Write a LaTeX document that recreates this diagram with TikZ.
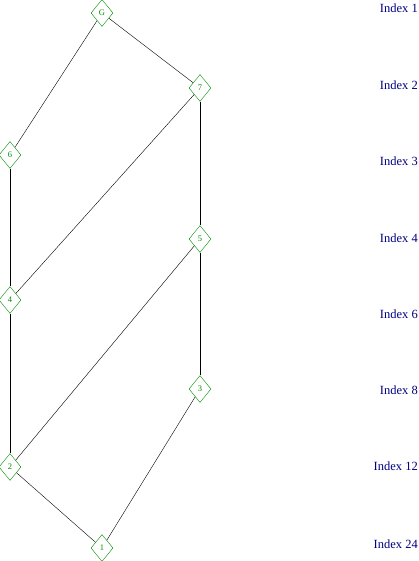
\documentclass[tikz,border=0pt]{standalone}
\usepackage{fontspec}
\setmainfont{Liberation Serif}
\usetikzlibrary{shapes.geometric}
\definecolor{lgreen}{RGB}{0,140,0}
\definecolor{lnavy}{RGB}{0,0,128}
\begin{document}
\begin{tikzpicture}[x=1pt,y=-1pt,
  grp/.style={diamond,draw=lgreen,text=lgreen,inner sep=0pt,minimum width=22pt,minimum height=27pt,font=\fontsize{8.5}{8.5}\selectfont},
  idx/.style={anchor=east,inner sep=0pt,text=lnavy,font=\fontsize{12.5}{12.5}\selectfont}]
\useasboundingbox (0,0) rectangle (419,561);
\node[grp] (g) at (102,13) {G};
\node[grp] (s) at (200,88) {7};
\node[grp] (f) at (10,155) {6};
\node[grp] (e) at (200,239) {5};
\node[grp] (d) at (10,300) {4};
\node[grp] (c) at (200,389) {3};
\node[grp] (b) at (10,467) {2};
\node[grp] (a) at (102,548) {1};
\draw (g) -- (s);
\draw (g) -- (f);
\draw (s) -- (e);
\draw (s) -- (d);
\draw (f) -- (d);
\draw (e) -- (b);
\draw (e) -- (c);
\draw (d) -- (b);
\draw (c) -- (a);
\draw (b) -- (a);
\node[idx] (i1) at (418,8) {Index 1};
\node[idx] (i2) at (418,85) {Index 2};
\node[idx] (i3) at (418,161) {Index 3};
\node[idx] (i4) at (418,238) {Index 4};
\node[idx] (i6) at (418,314) {Index 6};
\node[idx] (i8) at (418,390) {Index 8};
\node[idx] (i12) at (418,466) {Index 12};
\node[idx] (i24) at (418,544) {Index 24};
\end{tikzpicture}
\end{document}
